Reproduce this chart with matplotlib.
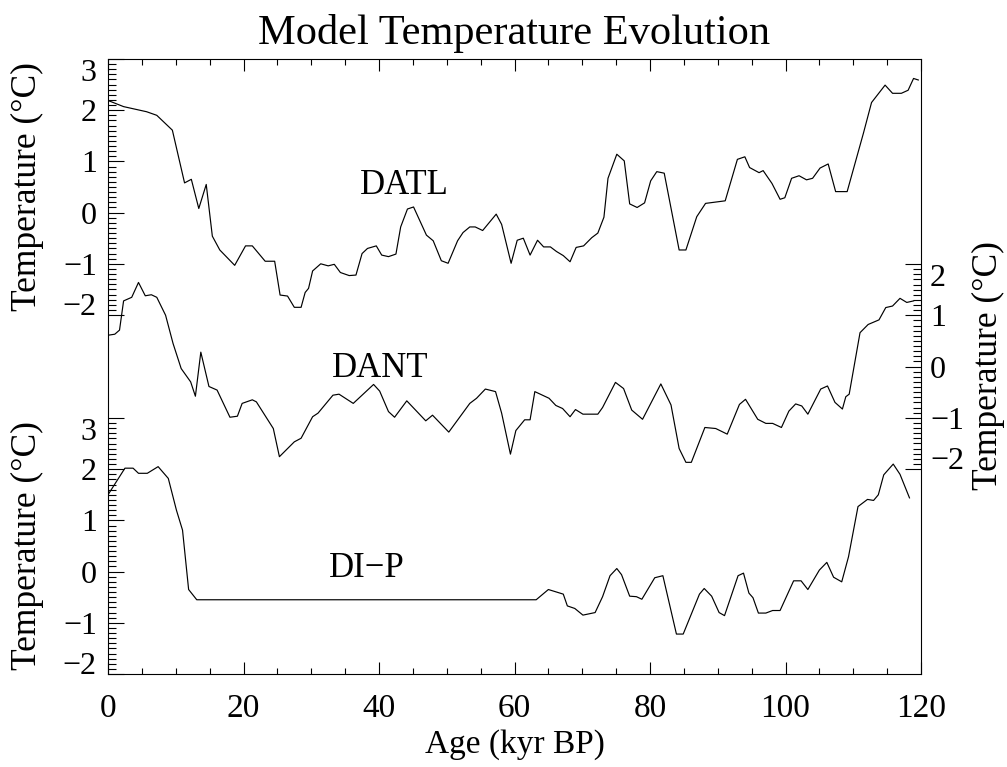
import matplotlib
matplotlib.use("Agg")
import matplotlib.pyplot as plt
from matplotlib.ticker import MultipleLocator, FixedLocator

plt.rcParams['font.family'] = ['Liberation Serif', 'DejaVu Serif']
plt.rcParams['axes.unicode_minus'] = True

# ---------------- data ----------------
datl_age = [0, 2.3, 5.7, 7.2, 9.5, 11.3, 12.3, 13.4, 14.5, 15.4, 16.5, 18.7, 20.3, 21.3,
            23.2, 24.6, 25.4, 26.5, 27.5, 28.5, 29.1, 29.6, 30.2, 31.4, 32.5, 33.4, 34.3,
            35.6, 36.6, 37.5, 38.3, 39.6, 40.4, 41.4, 42.5, 43.2, 44.2, 45.1, 47.0, 48.0,
            49.2, 50.2, 51.6, 52.4, 53.4, 54.2, 55.3, 57.3, 58.1, 59.5, 60.4, 61.3, 62.3,
            63.4, 64.3, 65.3, 66.2, 67.2, 68.2, 69.1, 70.2, 71.4, 72.3, 73.2, 73.8, 75.1,
            76.2, 77.0, 78.1, 79.2, 80.1, 81.0, 82.1, 84.3, 85.3, 86.9, 88.2, 91.1, 92.9,
            94.0, 94.7, 96.1, 96.7, 98.0, 99.2, 99.9, 100.9, 102.0, 103.1, 104.0, 105.1,
            106.3, 107.4, 109.1, 111.5, 112.7, 114.7, 115.8, 117.1, 118.1, 118.9, 119.6]
datl_val = [2.19, 2.07, 1.97, 1.90, 1.61, 0.58, 0.65, 0.08, 0.55, -0.46, -0.73, -1.03, -0.65,
            -0.65, -0.95, -0.95, -1.61, -1.63, -1.85, -1.85, -1.56, -1.48, -1.14, -1.00,
            -1.04, -1.01, -1.17, -1.23, -1.22, -0.80, -0.70, -0.65, -0.83, -0.86, -0.81,
            -0.28, 0.07, 0.11, -0.44, -0.55, -0.94, -0.99, -0.55, -0.39, -0.28, -0.28,
            -0.35, -0.03, -0.23, -0.99, -0.54, -0.50, -0.83, -0.54, -0.67, -0.67, -0.76,
            -0.84, -0.96, -0.68, -0.65, -0.49, -0.40, -0.09, 0.67, 1.14, 1.01, 0.17, 0.10,
            0.19, 0.62, 0.80, 0.77, -0.73, -0.73, -0.08, 0.18, 0.23, 1.04, 1.09, 0.88,
            0.78, 0.82, 0.57, 0.26, 0.29, 0.67, 0.72, 0.64, 0.67, 0.87, 0.95, 0.41, 0.41,
            1.55, 2.15, 2.49, 2.33, 2.33, 2.39, 2.62, 2.59]

dant_age = [0, 1.0, 1.7, 2.3, 3.5, 4.5, 5.5, 6.4, 7.2, 8.5, 9.6, 10.8, 12.2, 12.9, 13.7,
            14.9, 16.1, 18.0, 19.1, 19.8, 21.3, 21.9, 24.4, 25.3, 27.5, 28.5, 30.2, 31.0,
            33.2, 34.1, 36.2, 39.2, 40.1, 41.4, 42.3, 44.1, 46.9, 47.9, 50.3, 53.4, 54.4,
            55.7, 57.2, 58.1, 59.4, 60.2, 61.5, 62.3, 63.0, 65.1, 66.1, 67.1, 68.2, 69.0,
            70.1, 72.3, 73.0, 74.9, 76.1, 77.3, 78.9, 81.6, 83.1, 84.3, 85.3, 86.1, 88.1,
            89.7, 91.4, 93.2, 94.1, 95.9, 97.1, 98.1, 99.4, 100.5, 101.5, 102.4, 103.3,
            105.2, 106.2, 107.3, 108.4, 108.9, 109.4, 111.0, 112.2, 113.8, 114.8, 115.8,
            116.9, 117.9, 118.9]
dant_val = [0.61, 0.63, 0.71, 1.28, 1.35, 1.64, 1.38, 1.40, 1.35, 1.00, 0.45, -0.04, -0.30,
            -0.58, 0.28, -0.39, -0.46, -0.99, -0.97, -0.72, -0.65, -0.69, -1.21, -1.76,
            -1.47, -1.40, -0.98, -0.91, -0.56, -0.54, -0.72, -0.35, -0.48, -0.88, -0.99,
            -0.67, -1.06, -0.95, -1.28, -0.72, -0.62, -0.44, -0.49, -0.91, -1.71, -1.25,
            -1.04, -1.04, -0.49, -0.62, -0.76, -0.82, -0.98, -0.84, -0.93, -0.93, -0.80,
            -0.31, -0.43, -0.85, -1.03, -0.34, -0.75, -1.60, -1.87, -1.87, -1.19, -1.21,
            -1.32, -0.74, -0.64, -1.03, -1.11, -1.11, -1.19, -0.87, -0.73, -0.77, -0.93,
            -0.44, -0.38, -0.70, -0.83, -0.59, -0.54, 0.66, 0.82, 0.91, 1.15, 1.18, 1.33,
            1.25, 1.28]

dip_age = [0, 2.5, 3.7, 4.5, 5.8, 7.4, 8.9, 10.1, 11.0, 11.9, 13.1, 63.2, 65.0, 67.2, 67.8,
           68.9, 70.1, 71.9, 73.0, 74.1, 75.1, 75.8, 77.0, 78.0, 78.8, 80.7, 81.9, 83.9,
           84.9, 87.3, 88.0, 89.1, 90.2, 91.0, 93.0, 93.8, 94.6, 95.2, 96.0, 97.1, 98.1,
           99.2, 101.2, 102.3, 103.3, 105.0, 106.1, 107.1, 108.3, 109.3, 110.7, 112.1,
           113.0, 113.7, 114.5, 115.9, 116.9, 118.3]
dip_val = [1.50, 2.02, 2.02, 1.92, 1.92, 2.05, 1.82, 1.20, 0.81, -0.35, -0.55, -0.55, -0.35,
           -0.44, -0.67, -0.72, -0.85, -0.80, -0.49, -0.08, 0.06, -0.06, -0.48, -0.49,
           -0.54, -0.12, -0.08, -1.22, -1.22, -0.44, -0.33, -0.48, -0.80, -0.86, -0.08,
           -0.03, -0.42, -0.51, -0.81, -0.81, -0.76, -0.76, -0.18, -0.18, -0.35, 0.03,
           0.18, -0.11, -0.20, 0.29, 1.27, 1.41, 1.39, 1.50, 1.89, 2.10, 1.90, 1.44]

x_ticks = [0, 20, 40, 60, 80, 100, 120]
y_ticks_5 = [-2, -1, 0, 1, 2, 3]
y_ticks_4 = [-2, -1, 0, 1, 2]

# ---------------- layout ----------------
W, H = 1007, 767
fig = plt.figure(figsize=(W / 100, H / 100), dpi=100)


def rect(l, r, t, b):
    return [l / W, 1 - b / H, (r - l) / W, (b - t) / H]


L, R, T, B = 108, 921, 59, 674
LW = 0.8

ax0 = fig.add_axes(rect(L, R, T, B))
ax0.set_xlim(0, 120)
ax0.set_ylim(0, 1)
ax0.set_yticks([])
ax0.xaxis.set_major_locator(FixedLocator(x_ticks))
ax0.xaxis.set_minor_locator(MultipleLocator(5))
ax0.tick_params(axis='x', which='both', direction='in', top=True, bottom=True,
                width=LW, color='black')
ax0.tick_params(axis='x', which='major', length=8.5, labelsize=24, pad=14)
ax0.tick_params(axis='x', which='minor', length=4.3)
for s in ax0.spines.values():
    s.set_linewidth(LW)
ax0.set_facecolor('none')


def sub_axes(t, b, ylim, ticks, side):
    ax = fig.add_axes(rect(L, R, t, b))
    ax.set_facecolor('none')
    for s in ax.spines.values():
        s.set_visible(False)
    ax.set_xlim(0, 120)
    ax.set_ylim(*ylim)
    ax.set_xticks([])
    ax.yaxis.set_major_locator(FixedLocator(ticks))
    ax.yaxis.set_minor_locator(MultipleLocator(0.1))
    if side == 'right':
        ax.yaxis.tick_right()
        pad = 6.5
    else:
        ax.yaxis.tick_left()
        pad = 8
    ax.tick_params(axis='y', which='both', direction='in', width=LW, color='black')
    ax.tick_params(axis='y', which='major', length=11.5, labelsize=23, pad=pad)
    ax.tick_params(axis='y', which='minor', length=5.5)
    ax.set_yticklabels([str(v) if v >= 0 else '\u2212' + str(-v) for v in ticks])
    mt = ax.yaxis.get_major_ticks()
    lab = (lambda tk: tk.label2) if side == 'right' else (lambda tk: tk.label1)
    lab(mt[0]).set_va('baseline')
    lab(mt[-1]).set_va('top')
    return ax


ax1 = sub_axes(59, 315, (-2, 3), y_ticks_5, 'left')
ax2 = sub_axes(264, 469, (-2, 2), y_ticks_4, 'right')
ax3 = sub_axes(418, 674, (-2, 3), y_ticks_5, 'left')

ax1.plot(datl_age, datl_val, color='black', lw=0.85)
ax2.plot(dant_age, dant_val, color='black', lw=0.85)
ax3.plot(dip_age, dip_val, color='black', lw=0.85)

ax1.text(37.2, 0.36, 'DATL', fontsize=25, ha='left', va='baseline')
ax2.text(33.1, -0.2, 'DANT', fontsize=25, ha='left', va='baseline')
ax3.text(32.6, -0.1, 'DI\u2212P', fontsize=25, ha='left', va='baseline')

# axis titles
fig.text(27.5 / W, 1 - 187 / H, 'Temperature (\u00b0C)', rotation=90, fontsize=25.5,
         ha='center', va='center')
fig.text(27.5 / W, 1 - 546 / H, 'Temperature (\u00b0C)', rotation=90, fontsize=25.5,
         ha='center', va='center')
fig.text(988 / W, 1 - 366 / H, 'Temperature (\u00b0C)', rotation=90, fontsize=25.5,
         ha='center', va='center')
fig.text(514.5 / W, 1 - 745 / H, 'Age (kyr BP)', fontsize=24, ha='center', va='center')
fig.text(514.5 / W, 1 - 44 / H, 'Model Temperature Evolution', fontsize=30.5,
         ha='center', va='baseline')

fig.savefig('out.png', dpi=100, facecolor='white')
